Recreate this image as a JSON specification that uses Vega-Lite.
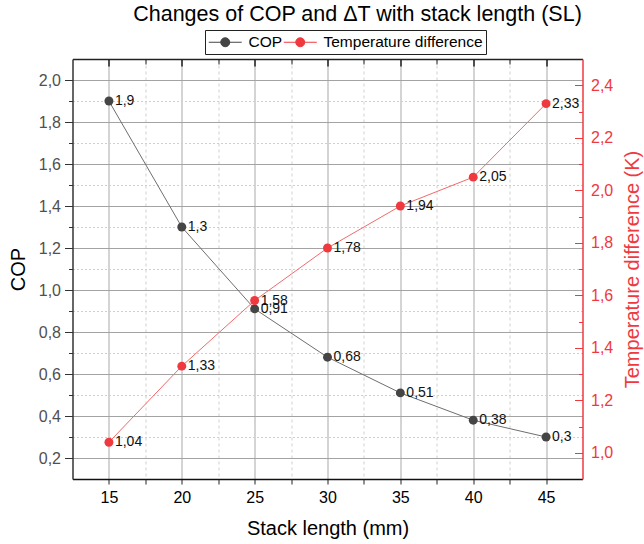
{
  "$schema": "https://vega.github.io/schema/vega-lite/v6.json",
  "width": 510,
  "height": 420,
  "autosize": {"type": "none"},
  "padding": {"left": 72.5, "top": 59, "right": 61.5, "bottom": 65},
  "background": "white",
  "config": {
    "locale": {"number": {"decimal": ",", "thousands": ".", "grouping": [3], "currency": ["", " €"]}},
    "font": "Liberation Sans",
    "view": {"stroke": null},
    "axis": {"labelFont": "Liberation Sans", "titleFont": "Liberation Sans", "titleFontWeight": "normal"},
    "legend": {"strokeColor": "#222222", "strokeWidth": 1, "padding": 3, "cornerRadius": 0, "fillColor": "#ffffff"}
  },
  "title": {
    "text": "Changes of COP and ΔT with stack length (SL)",
    "fontSize": 21.5,
    "fontWeight": "normal",
    "font": "Liberation Sans",
    "color": "#000000",
    "anchor": "middle",
    "frame": "group",
    "dx": 30,
    "offset": 4
  },
  "data": {
    "values": [
      {"SL": 15, "COP": 1.9, "dT": 1.04},
      {"SL": 20, "COP": 1.3, "dT": 1.33},
      {"SL": 25, "COP": 0.91, "dT": 1.58},
      {"SL": 30, "COP": 0.68, "dT": 1.78},
      {"SL": 35, "COP": 0.51, "dT": 1.94},
      {"SL": 40, "COP": 0.38, "dT": 2.05},
      {"SL": 45, "COP": 0.3, "dT": 2.33}
    ]
  },
  "layer": [
    {
      "layer": [
        {
          "mark": {"type": "line", "color": "#6e6e6e", "strokeWidth": 1},
          "encoding": {
            "x": {
              "field": "SL", "type": "quantitative",
              "scale": {"domain": [12.5, 47.5], "nice": false, "zero": false},
              "axis": {
                "orient": "bottom", "title": "Stack length (mm)", "titleFontSize": 20, "titleColor": "#000000", "titlePadding": 13,
                "values": [15, 20, 25, 30, 35, 40, 45], "format": "d",
                "labelFontSize": 16, "labelColor": "#000000", "labelPadding": 5,
                "tickSize": 5, "tickColor": "#222222", "tickWidth": 1,
                "domainColor": "#111111", "domainWidth": 1.5,
                "grid": true, "gridColor": "#d4d4d4", "gridWidth": 2
              }
            },
            "y": {
              "field": "COP", "type": "quantitative",
              "scale": {"domain": [0.1, 2.1], "nice": false, "zero": false},
              "axis": {
                "orient": "left", "title": "COP", "titleFontSize": 20, "titleColor": "#000000", "titlePadding": 10,
                "values": [0.2, 0.4, 0.6, 0.8, 1.0, 1.2, 1.4, 1.6, 1.8, 2.0], "format": ".1f",
                "labelFontSize": 16, "labelColor": "#505050", "labelPadding": 4,
                "tickSize": 8, "tickColor": "#333333", "tickWidth": 1,
                "domainColor": "#333333", "domainWidth": 1.5,
                "grid": true, "gridColor": "#a3a3a3", "gridWidth": 1
              }
            }
          }
        },
        {
          "mark": {"type": "point", "filled": true, "size": 80, "opacity": 1},
          "encoding": {
            "x": {
              "field": "SL", "type": "quantitative",
              "axis": {
                "orient": "bottom", "title": null, "labels": false,
                "values": [17.5, 22.5, 27.5, 32.5, 37.5, 42.5],
                "tickSize": 5, "tickColor": "#222222", "domain": false,
                "grid": true, "gridColor": "#d0d0d0", "gridWidth": 1, "gridDash": [3, 3]
              }
            },
            "y": {
              "field": "COP", "type": "quantitative",
              "axis": {
                "orient": "left", "title": null, "labels": false,
                "values": [0.3, 0.5, 0.7, 0.9, 1.1, 1.3, 1.5, 1.7, 1.9],
                "tickSize": 4, "tickColor": "#333333", "domain": false,
                "grid": true, "gridColor": "#cfcfcf", "gridWidth": 1, "gridDash": [2, 2]
              }
            },
            "color": {
              "datum": "COP",
              "scale": {"domain": ["COP", "Temperature difference"], "range": ["#454545", "#f0393f"]},
              "legend": {
                "title": null, "orient": "none", "direction": "horizontal",
                "legendX": 132.5, "legendY": -29,
                "symbolType": "M-1,0L3,0M1.545,0A0.545,0.545,0,1,1,0.455,0A0.545,0.545,0,1,1,1.545,0Z",
                "symbolSize": 272, "symbolStrokeWidth": 1, "symbolOpacity": 1,
                "labelFontSize": 15.5, "labelFont": "Liberation Sans", "labelColor": "#000000", "labelOffset": 22.5,
                "columnPadding": -7,
                "encode": {
                  "symbols": {
                    "update": {
                      "shape": {"value": "M-1,0L3,0M1.545,0A0.545,0.545,0,1,1,0.455,0A0.545,0.545,0,1,1,1.545,0Z"},
                      "size": {"value": 272},
                      "stroke": {"scale": "color", "field": "value"},
                      "strokeWidth": {"value": 1},
                      "fill": {"scale": "color", "field": "value"},
                      "opacity": {"value": 1}
                    }
                  }
                }
              }
            }
          }
        },
        {
          "mark": {"type": "text", "align": "left", "baseline": "middle", "dx": 6, "fontSize": 14, "font": "Liberation Sans", "color": "#111111"},
          "encoding": {
            "x": {"field": "SL", "type": "quantitative", "axis": null},
            "y": {"field": "COP", "type": "quantitative", "axis": null},
            "text": {"field": "COP", "type": "quantitative", "format": "~g"}
          }
        }
      ],
      "resolve": {"axis": {"x": "independent", "y": "independent"}}
    },
    {
      "layer": [
        {
          "mark": {"type": "line", "color": "#f26a6a", "strokeWidth": 1},
          "encoding": {
            "x": {
              "field": "SL", "type": "quantitative",
              "axis": {
                "orient": "top", "title": null, "labels": false,
                "values": [15, 20, 25, 30, 35, 40, 45],
                "tickSize": -7, "tickColor": "#222222", "tickWidth": 1.5,
                "domainColor": "#222222", "domainWidth": 1.5, "grid": false
              }
            },
            "y": {
              "field": "dT", "type": "quantitative",
              "scale": {"domain": [0.9, 2.5], "nice": false, "zero": false},
              "axis": {
                "orient": "right", "title": "Temperature difference (K)", "titleFontSize": 20, "titleColor": "#f0393f",
                "titleAngle": 270, "titleBaseline": "top", "titlePadding": 10,
                "values": [1.0, 1.2, 1.4, 1.6, 1.8, 2.0, 2.2, 2.4], "format": ".1f",
                "labelFontSize": 16, "labelColor": "#f0393f", "labelPadding": 8,
                "ticks": false,
                "domainColor": "#f0393f", "domainWidth": 1.5, "grid": false
              }
            }
          }
        },
        {
          "mark": {"type": "point", "filled": true, "size": 80, "opacity": 1},
          "encoding": {
            "x": {
              "field": "SL", "type": "quantitative",
              "axis": {
                "orient": "top", "title": null, "labels": false,
                "values": [17.5, 22.5, 27.5, 32.5, 37.5, 42.5],
                "tickSize": -5, "tickColor": "#222222", "domain": false, "grid": false
              }
            },
            "y": {
              "field": "dT", "type": "quantitative",
              "axis": {
                "orient": "right", "title": null, "labels": false,
                "values": [1.0, 1.2, 1.4, 1.6, 1.8, 2.0, 2.2, 2.4],
                "tickSize": -8, "tickColor": "#f0393f", "tickWidth": 1, "domain": false, "grid": false
              }
            },
            "color": {"datum": "Temperature difference"}
          }
        },
        {
          "mark": {"type": "text", "align": "left", "baseline": "middle", "dx": 6, "fontSize": 14, "font": "Liberation Sans", "color": "#111111"},
          "encoding": {
            "x": {"field": "SL", "type": "quantitative", "axis": null},
            "y": {
              "field": "dT", "type": "quantitative",
              "axis": {
                "orient": "right", "title": null, "labels": false,
                "values": [1.1, 1.3, 1.5, 1.7, 1.9, 2.1, 2.3],
                "tickSize": -4, "tickColor": "#f0393f", "tickWidth": 1, "domain": false, "grid": false
              }
            },
            "text": {"field": "dT", "type": "quantitative", "format": "~g"}
          }
        }
      ],
      "resolve": {"axis": {"x": "independent", "y": "independent"}}
    }
  ],
  "resolve": {"scale": {"y": "independent"}, "axis": {"x": "independent", "y": "independent"}}
}
